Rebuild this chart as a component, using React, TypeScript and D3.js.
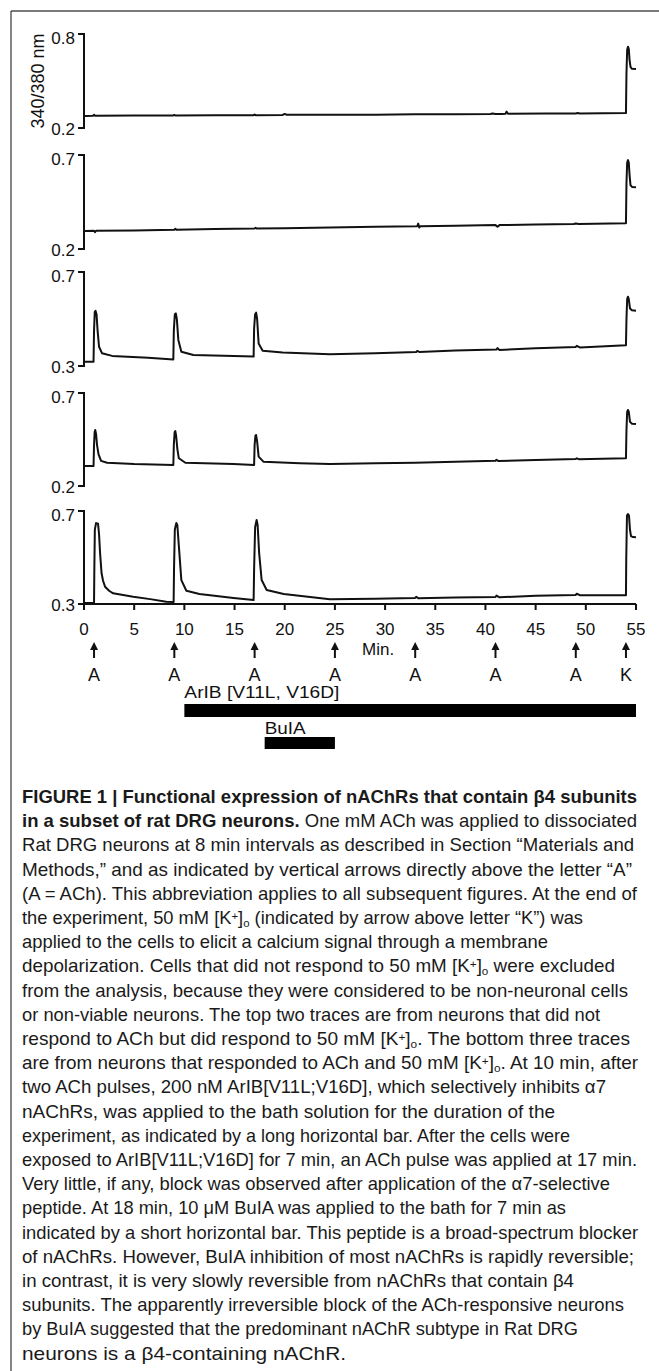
import React from "react";
import * as d3 from "d3";

// time axis (min)
const xTicks = [0, 5, 10, 15, 20, 25, 30, 35, 40, 45, 50, 55];
// drug application markers: A = ACh, K = 50 mM K+
const pulseTimes = [1, 9, 17, 25, 33, 41, 49, 54];
const pulseLabels = ["A", "A", "A", "A", "A", "A", "A", "K"];

// 340/380 nm ratio range of each trace panel (top -> bottom)
const panelDomains = [
  [0.2, 0.8],
  [0.2, 0.7],
  [0.3, 0.7],
  [0.2, 0.7],
  [0.3, 0.7],
];

// peptide application bars [start, end] (min)
const aribBar = [10, 55];
const buiaBar = [18, 25];

// traces, [min, ratio]
const trace1 = [
  [0.1, 0.276], [0.9, 0.278], [1.0, 0.284], [1.1, 0.278], [5, 0.279], [8.9, 0.28], [9.0, 0.283],
  [9.1, 0.28], [13, 0.281], [16.9, 0.282], [17, 0.286], [17.1, 0.282], [19.8, 0.283], [20, 0.29],
  [20.2, 0.284], [25, 0.285], [29, 0.285], [33, 0.287], [37, 0.288], [40.5, 0.289], [40.7, 0.293],
  [41.0, 0.289], [41.6, 0.29], [42.0, 0.291], [42.1, 0.305], [42.25, 0.291], [46, 0.292], [49, 0.293],
  [49.2, 0.296], [49.4, 0.293], [54.0, 0.295], [54.05, 0.55], [54.12, 0.7], [54.2, 0.719],
  [54.28, 0.705], [54.35, 0.64], [54.45, 0.59], [54.6, 0.578], [55, 0.576],
];
const trace2 = [
  [0.1, 0.296], [1.0, 0.297], [1.1, 0.29], [1.2, 0.297], [5, 0.299], [9, 0.303], [9.1, 0.307],
  [9.2, 0.303], [13, 0.306], [17, 0.309], [17.1, 0.313], [17.2, 0.309], [20, 0.311], [24.5, 0.315],
  [29, 0.318], [33.2, 0.321], [33.3, 0.335], [33.4, 0.314], [33.5, 0.321], [37, 0.324], [41, 0.327],
  [41.2, 0.318], [41.4, 0.327], [45, 0.33], [48.8, 0.333], [49.0, 0.336], [49.3, 0.333], [54, 0.337],
  [54.05, 0.55], [54.12, 0.66], [54.2, 0.673], [54.28, 0.66], [54.35, 0.6], [54.45, 0.54],
  [54.6, 0.53], [55, 0.528],
];
const trace3 = [
  [0.05, 0.318], [0.95, 0.318], [1.0, 0.45], [1.07, 0.53], [1.15, 0.535], [1.25, 0.52], [1.35, 0.453],
  [1.5, 0.382], [1.8, 0.354], [2.8, 0.343], [6.4, 0.335], [8.9, 0.328], [8.95, 0.45], [9.05, 0.52],
  [9.15, 0.524], [9.25, 0.5], [9.4, 0.411], [9.7, 0.361], [10.9, 0.347], [14.9, 0.343], [16.9, 0.34],
  [16.95, 0.46], [17.05, 0.52], [17.15, 0.527], [17.25, 0.5], [17.4, 0.396], [17.8, 0.365],
  [19.8, 0.357], [24.5, 0.35], [29, 0.354], [33.1, 0.36], [33.2, 0.364], [33.4, 0.36], [37, 0.366],
  [41.1, 0.37], [41.2, 0.376], [41.4, 0.368], [45, 0.376], [49.0, 0.381], [49.1, 0.386],
  [49.4, 0.379], [54, 0.388], [54.05, 0.5], [54.12, 0.585], [54.2, 0.595], [54.28, 0.585],
  [54.4, 0.545], [54.6, 0.537], [55, 0.535],
];
const trace4 = [
  [0.05, 0.308], [0.95, 0.308], [1.0, 0.42], [1.06, 0.49], [1.12, 0.501], [1.2, 0.48], [1.3, 0.42],
  [1.45, 0.37], [1.7, 0.335], [2.3, 0.325], [5, 0.318], [8.9, 0.313], [8.95, 0.42], [9.03, 0.49],
  [9.1, 0.495], [9.18, 0.47], [9.3, 0.4], [9.45, 0.349], [10.1, 0.325], [14.9, 0.318], [16.95, 0.313],
  [17.0, 0.42], [17.08, 0.47], [17.15, 0.474], [17.25, 0.44], [17.4, 0.358], [17.9, 0.33],
  [21.5, 0.322], [24.5, 0.318], [29, 0.322], [33, 0.325], [37, 0.33], [41, 0.336], [41.1, 0.341],
  [41.3, 0.334], [45, 0.34], [49, 0.345], [49.1, 0.349], [49.3, 0.344], [54, 0.349], [54.05, 0.5],
  [54.12, 0.6], [54.2, 0.609], [54.28, 0.6], [54.4, 0.545], [54.6, 0.535], [55, 0.533],
];
const trace5 = [
  [0.05, 0.304], [1.0, 0.304], [1.03, 0.45], [1.08, 0.62], [1.2, 0.648], [1.4, 0.645], [1.5, 0.6],
  [1.6, 0.52], [1.75, 0.432], [1.9, 0.4], [2.1, 0.374], [2.5, 0.357], [2.9, 0.346], [4.9, 0.331],
  [6.6, 0.321], [8.2, 0.31], [8.93, 0.309], [8.97, 0.45], [9.05, 0.62], [9.2, 0.648], [9.3, 0.64],
  [9.45, 0.55], [9.7, 0.403], [10.2, 0.357], [11.5, 0.343], [14.9, 0.326], [16.9, 0.317],
  [16.95, 0.45], [17.05, 0.63], [17.2, 0.661], [17.3, 0.64], [17.45, 0.52], [17.7, 0.403],
  [18.2, 0.36], [19.9, 0.343], [24.5, 0.32], [29, 0.323], [33, 0.326], [33.1, 0.331], [33.3, 0.325],
  [37, 0.328], [41, 0.33], [41.1, 0.336], [41.4, 0.329], [45, 0.335], [49, 0.339], [49.1, 0.344],
  [49.4, 0.338], [54, 0.338], [54.03, 0.5], [54.1, 0.68], [54.2, 0.687], [54.3, 0.68], [54.4, 0.62],
  [54.5, 0.592], [54.7, 0.588], [55, 0.587],
];
const traces = [trace1, trace2, trace3, trace4, trace5];

// caption, ** = bold, ^+ = superscript plus, _o = subscript o
const captionLines = [
  "**FIGURE 1 | Functional expression of nAChRs that contain β4 subunits**",
  "**in a subset of rat DRG neurons.** One mM ACh was applied to dissociated",
  "Rat DRG neurons at 8 min intervals as described in Section \u201CMaterials and",
  "Methods,\u201D and as indicated by vertical arrows directly above the letter \u201CA\u201D",
  "(A = ACh). This abbreviation applies to all subsequent figures. At the end of",
  "the experiment, 50 mM [K^+]_o (indicated by arrow above letter \u201CK\u201D) was",
  "applied to the cells to elicit a calcium signal through a membrane",
  "depolarization. Cells that did not respond to 50 mM [K^+]_o were excluded",
  "from the analysis, because they were considered to be non-neuronal cells",
  "or non-viable neurons. The top two traces are from neurons that did not",
  "respond to ACh but did respond to 50 mM [K^+]_o. The bottom three traces",
  "are from neurons that responded to ACh and 50 mM [K^+]_o. At 10 min, after",
  "two ACh pulses, 200 nM ArIB[V11L;V16D], which selectively inhibits α7",
  "nAChRs, was applied to the bath solution for the duration of the",
  "experiment, as indicated by a long horizontal bar. After the cells were",
  "exposed to ArIB[V11L;V16D] for 7 min, an ACh pulse was applied at 17 min.",
  "Very little, if any, block was observed after application of the α7-selective",
  "peptide. At 18 min, 10 μM BuIA was applied to the bath for 7 min as",
  "indicated by a short horizontal bar. This peptide is a broad-spectrum blocker",
  "of nAChRs. However, BuIA inhibition of most nAChRs is rapidly reversible;",
  "in contrast, it is very slowly reversible from nAChRs that contain β4",
  "subunits. The apparently irreversible block of the ACh-responsive neurons",
  "by BuIA suggested that the predominant nAChR subtype in Rat DRG",
  "neurons is a β4-containing nAChR.",
];
// right end of each caption line (px)
const captionEnds = [637, 637, 634, 632, 637, 583, 548, 615, 628, 600, 630, 638, 606, 555, 570, 637, 610, 566, 638, 634, 574, 624, 578, 346];

// layout
const W = 659;
const H = 1371;
const panelRanges = [
  [128, 34],
  [249, 155],
  [366, 272],
  [486, 393],
  [604, 511],
];
const FONT = "'Liberation Sans', Arial, Helvetica, sans-serif";
const CAP_FONT = "'Liberation Sans Narrow', 'Arial Narrow', 'Liberation Sans', Arial, sans-serif";

const x = d3.scaleLinear().domain([0, 55]).range([84, 636]);

function renderCaptionLine(str: string) {
  const parts = str.split(/(\*\*[^*]+\*\*|\^\+|_o)/).filter((p) => p !== "");
  const out: any[] = [];
  let shift = 0;
  parts.forEach((p, i) => {
    if (p.startsWith("**")) {
      out.push(
        <tspan key={i} fontWeight="bold" dy={-shift}>
          {p.slice(2, -2)}
        </tspan>
      );
      shift = 0;
    } else if (p === "^+") {
      out.push(
        <tspan key={i} dy={-4.5 - shift} fontSize={11.5}>
          +
        </tspan>
      );
      shift = -4.5;
    } else if (p === "_o") {
      out.push(
        <tspan key={i} dy={3 - shift} fontSize={11.5}>
          o
        </tspan>
      );
      shift = 3;
    } else {
      out.push(
        <tspan key={i} dy={-shift}>
          {p}
        </tspan>
      );
      shift = 0;
    }
  });
  return out;
}

export default function App() {
  const line = d3
    .line<number[]>()
    .x((d) => x(d[0]))
    .curve(d3.curveLinear);

  return (
    <svg
      width={W}
      height={H}
      style={{ position: "absolute", left: 0, top: 0, background: "#fff" }}
      fontFamily={FONT}
    >
      {/* frame */}
      <line x1={11} y1={11} x2={W} y2={11} stroke="#7a7a7a" strokeWidth={2} />
      <line x1={11} y1={11} x2={11} y2={H} stroke="#333" strokeWidth={1.2} />

      {/* y title */}
      <text transform="translate(44,81) rotate(-90)" textAnchor="middle" fontSize={18} fill="#111">
        340/380 nm
      </text>

      {panelDomains.map((dom, i) => {
        const y = d3.scaleLinear().domain(dom).range(panelRanges[i]);
        const [y0, y1] = panelRanges[i];
        const path = line.y((d) => y(d[1]))(traces[i] as any);
        return (
          <g key={i}>
            <path d={`M78,${y1}H84V${y0}H78`} fill="none" stroke="#111" strokeWidth={2} />
            {dom.map((v, j) => (
              <text
                key={j}
                x={75}
                y={y(v) + (j === 0 ? 1 : 4)}
                dy="0.35em"
                textAnchor="end"
                fontSize={17}
                fill="#111"
              >
                {v.toFixed(1)}
              </text>
            ))}
            <path d={path || ""} fill="none" stroke="#111" strokeWidth={2} strokeLinejoin="round" />
          </g>
        );
      })}

      {/* time axis */}
      <line x1={x(0)} x2={x(55)} y1={604} y2={604} stroke="#111" strokeWidth={2} />
      {xTicks.map((t) => (
        <g key={t}>
          <line x1={x(t)} x2={x(t)} y1={604} y2={610} stroke="#111" strokeWidth={2} />
          <text x={x(t)} y={635} textAnchor="middle" fontSize={17} fill="#111">
            {t}
          </text>
        </g>
      ))}
      <text x={362} y={655} fontSize={17} fill="#111">
        Min.
      </text>

      {/* application arrows */}
      {pulseTimes.map((t, i) => (
        <g key={i}>
          <line x1={x(t)} x2={x(t)} y1={647} y2={658} stroke="#111" strokeWidth={2} />
          <path d={`M${x(t)},642L${x(t) + 4},650L${x(t) - 4},650Z`} fill="#111" />
          <text x={x(t)} y={681} textAnchor="middle" fontSize={18} fill="#111">
            {pulseLabels[i]}
          </text>
        </g>
      ))}

      {/* peptide bars */}
      <text x={x(aribBar[0])} y={698} fontSize={17} fill="#111" textLength={155} lengthAdjust="spacingAndGlyphs">
        ArIB [V11L, V16D]
      </text>
      <rect x={x(aribBar[0])} y={704} width={x(aribBar[1]) - x(aribBar[0])} height={13} fill="#000" />
      <text x={x(buiaBar[0])} y={734} fontSize={17} fill="#111" textLength={41} lengthAdjust="spacingAndGlyphs">
        BuIA
      </text>
      <rect x={x(buiaBar[0])} y={737} width={x(buiaBar[1]) - x(buiaBar[0])} height={12} fill="#000" />

      {/* caption */}
      <g fontFamily={CAP_FONT} fontSize={18.5} fill="#1a1a1a">
        {captionLines.map((l, i) => (
          <text
            key={i}
            x={22}
            y={803 + i * 24.2}
            textLength={captionEnds[i] - 22}
            lengthAdjust="spacingAndGlyphs"
          >
            {renderCaptionLine(l)}
          </text>
        ))}
      </g>
    </svg>
  );
}
